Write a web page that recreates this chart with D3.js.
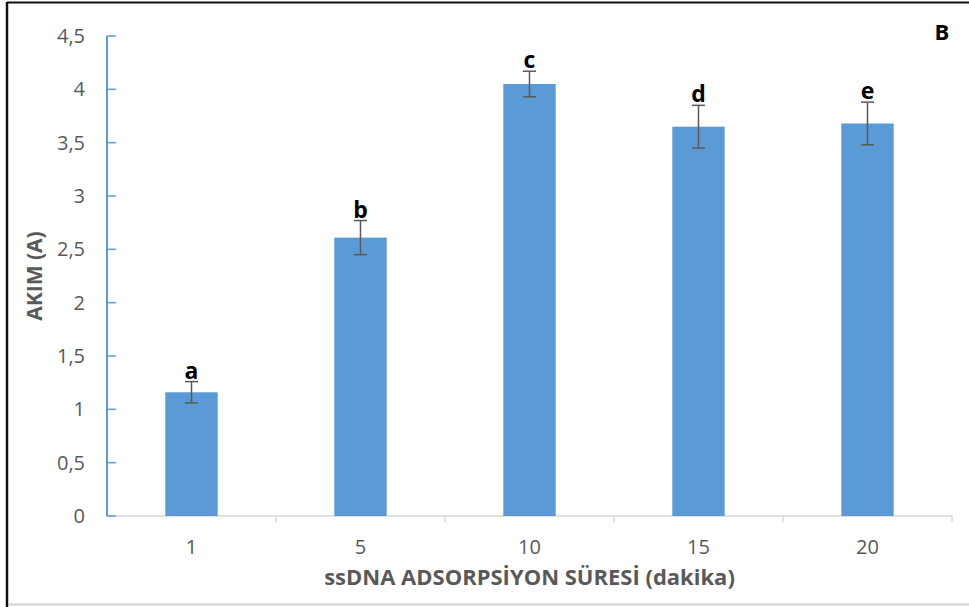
<!DOCTYPE html>
<html>
<head>
<meta charset="utf-8">
<script src="https://cdn.jsdelivr.net/npm/d3@7/dist/d3.min.js"></script>
<style>
  html, body { margin: 0; padding: 0; background: #fff; }
  svg { display: block; }
  text { font-family: "Open Sans", "Noto Sans", sans-serif; }
</style>
</head>
<body>
<svg id="chart" width="969" height="607"></svg>
<script>
// Adsorption time (minutes) categories and measured current with error
const categories = ["1", "5", "10", "15", "20"];
const currents   = [1.16, 2.61, 4.05, 3.65, 3.68];
const errors     = [0.10, 0.16, 0.12, 0.20, 0.20];
const groupLetters = ["a", "b", "c", "d", "e"];
const yTicks = [0, 0.5, 1, 1.5, 2, 2.5, 3, 3.5, 4, 4.5];

const W = 969, H = 607;
const plot = { left: 107, right: 952, top: 36, bottom: 516 };

const svg = d3.select("#chart");

// frame lines
svg.append("line").attr("x1", 7).attr("x2", W).attr("y1", 2.5).attr("y2", 2.5)
  .attr("stroke", "#111").attr("stroke-width", 2);
svg.append("line").attr("x1", 7).attr("x2", 7).attr("y1", 2).attr("y2", H)
  .attr("stroke", "#111").attr("stroke-width", 2.5);
svg.append("line").attr("x1", 8).attr("x2", W).attr("y1", 604.5).attr("y2", 604.5)
  .attr("stroke", "#cfcfcf").attr("stroke-width", 2);

const x = d3.scaleBand().domain(categories).range([plot.left, plot.right]).padding(0);
const y = d3.scaleLinear().domain([0, 4.5]).range([plot.bottom, plot.top]);
const barW = x.bandwidth() * 0.31;

// x axis
const xAxis = svg.append("g").attr("transform", `translate(0,${plot.bottom})`);
xAxis.append("line").attr("x1", plot.left).attr("x2", plot.right)
  .attr("stroke", "#d9d9d9").attr("stroke-width", 1.5);
const xBounds = categories.map(c => x(c) + x.bandwidth());
xAxis.selectAll("line.tick").data(xBounds).enter().append("line")
  .attr("class", "tick")
  .attr("x1", d => d).attr("x2", d => d).attr("y1", 0).attr("y2", 6)
  .attr("stroke", "#d9d9d9").attr("stroke-width", 1.5);
xAxis.selectAll("text").data(categories).enter().append("text")
  .attr("x", d => x(d) + x.bandwidth() / 2)
  .attr("y", 38)
  .attr("text-anchor", "middle")
  .attr("fill", "#595959").attr("font-size", 20)
  .text(d => d);

// y axis
const yAxis = svg.append("g").attr("transform", `translate(${plot.left},0)`);
yAxis.append("line").attr("y1", y(0)).attr("y2", y(4.5))
  .attr("stroke", "#5b9bd5").attr("stroke-width", 2);
yAxis.selectAll("line.tick").data(yTicks).enter().append("line")
  .attr("class", "tick")
  .attr("x1", 0).attr("x2", 9).attr("y1", d => y(d)).attr("y2", d => y(d))
  .attr("stroke", "#5b9bd5").attr("stroke-width", 1.5);
const fmt = d => String(d).replace(".", ",");
yAxis.selectAll("text").data(yTicks).enter().append("text")
  .attr("x", -22).attr("y", d => y(d) + 7)
  .attr("text-anchor", "end")
  .attr("fill", "#595959").attr("font-size", 20)
  .text(fmt);

// bars
const data = categories.map((c, i) => ({ c, v: currents[i], e: errors[i], g: groupLetters[i] }));
svg.append("g").selectAll("rect").data(data).enter().append("rect")
  .attr("x", d => x(d.c) + x.bandwidth() / 2 - barW / 2)
  .attr("width", barW)
  .attr("y", d => y(d.v))
  .attr("height", d => y(0) - y(d.v))
  .attr("fill", "#5b9bd5");

// error bars
const eb = svg.append("g").attr("stroke", "#595959").attr("stroke-width", 1.5);
data.forEach(d => {
  const cx = x(d.c) + x.bandwidth() / 2;
  eb.append("line").attr("x1", cx).attr("x2", cx).attr("y1", y(d.v + d.e)).attr("y2", y(d.v - d.e));
  eb.append("line").attr("x1", cx - 6.5).attr("x2", cx + 6.5).attr("y1", y(d.v + d.e)).attr("y2", y(d.v + d.e));
  eb.append("line").attr("x1", cx - 6.5).attr("x2", cx + 6.5).attr("y1", y(d.v - d.e)).attr("y2", y(d.v - d.e));
});

// significance letters
svg.append("g").selectAll("text").data(data).enter().append("text")
  .attr("x", d => x(d.c) + x.bandwidth() / 2)
  .attr("y", d => y(d.v + d.e) - 3)
  .attr("text-anchor", "middle")
  .attr("font-weight", "bold").attr("font-size", 23).attr("fill", "#000")
  .text(d => d.g);

// axis titles
svg.append("text")
  .attr("x", (plot.left + plot.right) / 2).attr("y", 585)
  .attr("text-anchor", "middle")
  .attr("font-weight", "bold").attr("font-size", 22).attr("fill", "#595959")
  .text("ssDNA ADSORPSİYON SÜRESİ (dakika)");
svg.append("text")
  .attr("transform", `translate(42,${(plot.top + plot.bottom) / 2}) rotate(-90)`)
  .attr("text-anchor", "middle")
  .attr("font-weight", "bold").attr("font-size", 21).attr("fill", "#595959")
  .text("AKIM (A)");

// panel label
svg.append("text")
  .attr("x", 942).attr("y", 40)
  .attr("text-anchor", "middle")
  .attr("font-weight", "bold").attr("font-size", 22).attr("fill", "#000")
  .text("B");
</script>
</body>
</html>
